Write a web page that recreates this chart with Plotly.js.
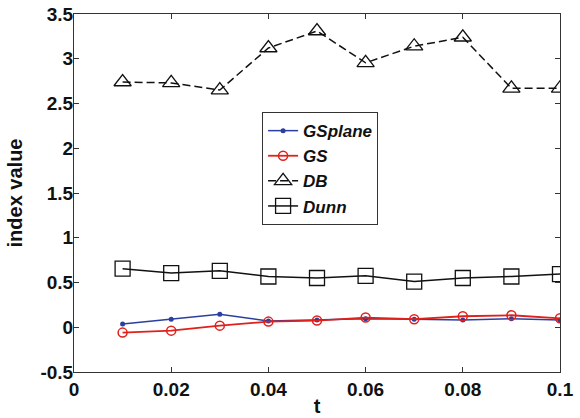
<!DOCTYPE html>
<html>
<head>
<meta charset="utf-8">
<script src="https://cdn.plot.ly/plotly-3.0.1.min.js"></script>
<style>html,body{margin:0;padding:0;background:#fff;}#chart{width:580px;height:418px;}</style>
</head>
<body>
<div id="chart"></div>
<script>
const t = [0.01, 0.02, 0.03, 0.04, 0.05, 0.06, 0.07, 0.08, 0.09, 0.1];
const gsplane = [0.037, 0.09, 0.146, 0.07, 0.08, 0.095, 0.09, 0.08, 0.095, 0.08];
const gs = [-0.06, -0.038, 0.018, 0.063, 0.075, 0.108, 0.09, 0.123, 0.134, 0.1];
const db = [2.74, 2.73, 2.65, 3.12, 3.31, 2.955, 3.14, 3.24, 2.67, 2.67];
const dunn = [0.654, 0.605, 0.63, 0.567, 0.55, 0.575, 0.51, 0.55, 0.567, 0.594];
const xTicks = [0, 0.02, 0.04, 0.06, 0.08, 0.1];
const xTickText = ['0', '0.02', '0.04', '0.06', '0.08', '0.1'];
const yTicks = [-0.5, 0, 0.5, 1, 1.5, 2, 2.5, 3, 3.5];
const yTickText = ['-0.5', '0', '0.5', '1', '1.5', '2', '2.5', '3', '3.5'];

const fontFam = 'Liberation Sans, Arial, sans-serif';
const traces = [
  {x: t, y: gsplane, name: 'GSplane', mode: 'lines+markers',
   line: {color: '#2b3f9e', width: 1.5}, marker: {symbol: 'circle', size: 5, color: '#2b3f9e'}},
  {x: t, y: gs, name: 'GS', mode: 'lines+markers',
   line: {color: '#e0201b', width: 1.8}, marker: {symbol: 'circle-open', size: 9, color: '#e0201b', line: {width: 1.5}}},
  {x: t, y: db, name: 'DB', mode: 'lines+markers',
   line: {color: '#111', width: 1.5, dash: '8px,4px'}, marker: {symbol: 'triangle-up-open', size: 15, color: '#111', line: {width: 1.3}}},
  {x: t, y: dunn, name: 'Dunn', mode: 'lines+markers',
   line: {color: '#111', width: 1.5}, marker: {symbol: 'square-open', size: 15, color: '#111', line: {width: 1.3}}}
];
const layout = {
  width: 580, height: 418,
  margin: {l: 74, r: 20, t: 14, b: 46},
  paper_bgcolor: '#fff', plot_bgcolor: '#fff',
  font: {family: fontFam, size: 18, color: '#111', weight: 'bold'},
  showlegend: true,
  legend: {x: 0.387, y: 0.726, xanchor: 'left', yanchor: 'top',
    bgcolor: '#fff', bordercolor: '#333', borderwidth: 1,
    font: {family: fontFam, size: 17, style: 'italic', weight: 'bold', color: '#111'},
    tracegroupgap: 0},
  xaxis: {range: [0, 0.1], tickvals: xTicks, ticktext: xTickText,
    ticks: 'inside', ticklen: 5, tickcolor: '#333', showline: true, linecolor: '#333', linewidth: 1,
    mirror: 'ticks', showgrid: false, zeroline: false,
    tickfont: {family: fontFam, size: 19, weight: 'bold'},
    title: {text: 't', font: {family: fontFam, size: 20, weight: 'bold'}, standoff: 0}},
  yaxis: {range: [-0.5, 3.5], tickvals: yTicks, ticktext: yTickText,
    ticks: 'inside', ticklen: 5, tickcolor: '#333', showline: true, linecolor: '#333', linewidth: 1,
    mirror: 'ticks', showgrid: false, zeroline: false, ticklabelstandoff: -4,
    tickfont: {family: fontFam, size: 19, weight: 'bold'},
    title: {text: 'index value', font: {family: fontFam, size: 20, weight: 'bold'}, standoff: 12}}
};
Plotly.newPlot('chart', traces, layout, {displayModeBar: false, staticPlot: true});
</script>
</body>
</html>
